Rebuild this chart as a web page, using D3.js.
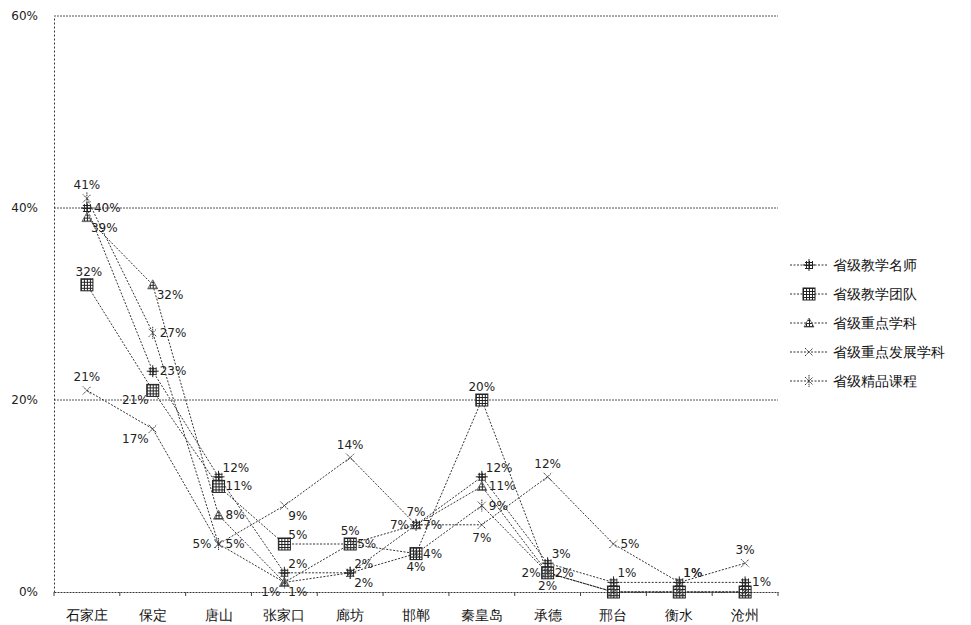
<!DOCTYPE html>
<html>
<head>
<meta charset="utf-8">
<script src="https://cdn.jsdelivr.net/npm/d3@7"></script>
<style>
    body { margin: 0; background: #fff; }
    #chart { width: 971px; height: 625px; }
    text { font-family: "DejaVu Sans", sans-serif; }
</style>
</head>
<body>
<div id="chart"></div>
<script>
// categories and values (percent)
const categories = ["石家庄", "保定", "唐山", "张家口", "廊坊", "邯郸", "秦皇岛", "承德", "邢台", "衡水", "沧州"];
const teacherVals = [40, 23, 12, 2, 2, 7, 12, 3, 1, 1, 1];
const teamVals = [32, 21, 11, 5, 5, 4, 20, 2, 0, 0, 0];
const keySubjectVals = [39, 32, 8, 1, 5, 7, 11, 2, 0, 0, 0];
const devSubjectVals = [21, 17, 5, 9, 14, 7, 7, 12, 5, 1, 3];
const courseVals = [41, 27, 5, 1, 2, 4, 9, 2, 0, 0, 0];
const seriesNames = ["省级教学名师", "省级教学团队", "省级重点学科", "省级重点发展学科", "省级精品课程"];
const yTicks = [0, 20, 40, 60];

// where each data label sits relative to its point
const labelPlace = [
    ["r", "r", "ar", "ar", "ar", "a", "ar", "ar", "ar", "ar", "r"],
    ["al", "bl", "r", "ar", "a", "b", "a", "l", "r", "r", "r"],
    ["br", "br", "r", "bl", "r", "l", "r", "r", "r", "r", "r"],
    ["a", "bl", "l", "br", "a", "r", "b", "a", "r", "ar", "a"],
    ["a", "r", "r", "br", "br", "r", "r", "b", "r", "r", "r"]
];

const seriesVals = [teacherVals, teamVals, keySubjectVals, devSubjectVals, courseVals];
const markerTypes = ["hash", "square", "triangle", "cross", "star"];

const margin = {top: 16, right: 193, bottom: 33, left: 54};
const width = 971 - margin.left - margin.right;
const height = 625 - margin.top - margin.bottom;

const svg = d3.select("#chart").append("svg")
    .attr("width", 971)
    .attr("height", 625);

// hatch fill for markers
const defs = svg.append("defs");
const pat = defs.append("pattern")
    .attr("id", "hatch")
    .attr("width", 3).attr("height", 3)
    .attr("patternUnits", "userSpaceOnUse");
pat.append("rect").attr("width", 3).attr("height", 3).attr("fill", "#fff");
pat.append("path").attr("d", "M0,0.5H3M0.5,0V3").attr("stroke", "#222").attr("stroke-width", 1);

const g = svg.append("g")
    .attr("transform", `translate(${margin.left},${margin.top})`);

const x = d3.scaleBand()
    .domain(categories)
    .range([0, width]);

const y = d3.scaleLinear()
    .domain([0, 60])
    .range([height, 0]);

// gridlines
g.selectAll(".grid")
    .data(yTicks.filter(d => d > 0))
    .enter()
    .append("line")
    .attr("class", "grid")
    .attr("x1", 0).attr("x2", width)
    .attr("y1", d => y(d)).attr("y2", d => y(d))
    .attr("stroke", "#555")
    .attr("stroke-width", 1)
    .attr("stroke-dasharray", "2,1");

// y axis
const yAxis = d3.axisLeft(y)
    .tickValues(yTicks)
    .tickSize(0)
    .tickPadding(16)
    .tickFormat(d => d + "%");
const yg = g.append("g").call(yAxis);
yg.select(".domain").attr("stroke", "#333").attr("stroke-dasharray", "2,2");
yg.selectAll("text").attr("font-size", 12).attr("fill", "#222");

// x axis
const xAxis = d3.axisBottom(x).tickSize(0).tickPadding(18);
const xg = g.append("g")
    .attr("transform", `translate(0,${height})`)
    .call(xAxis);
xg.select(".domain").attr("stroke", "#333").attr("stroke-dasharray", "2,1");
xg.selectAll("text")
    .attr("font-size", 14)
    .attr("font-family", "'Noto Sans CJK SC', sans-serif")
    .attr("fill", "#111");
// boundary ticks
g.selectAll(".btick")
    .data(d3.range(categories.length + 1))
    .enter()
    .append("line")
    .attr("x1", d => d * x.step()).attr("x2", d => d * x.step())
    .attr("y1", height).attr("y2", height + 4)
    .attr("stroke", "#444");

const line = d3.line()
    .x((d, i) => x(categories[i]) + x.bandwidth() / 2)
    .y(d => y(d));

function drawMarker(sel, type) {
    if (type === "hash") {
        sel.append("rect").attr("x", -4).attr("y", -4).attr("width", 8).attr("height", 8)
            .attr("fill", "url(#hatch)");
        sel.append("path").attr("d", "M-6,0H6M0,-6V6").attr("stroke", "#222").attr("stroke-width", 1);
    } else if (type === "square") {
        sel.append("rect").attr("x", -6).attr("y", -6).attr("width", 12).attr("height", 12)
            .attr("fill", "url(#hatch)").attr("stroke", "#222").attr("stroke-width", 1);
    } else if (type === "triangle") {
        sel.append("path").attr("d", "M0,-5L5,4L-5,4Z")
            .attr("fill", "url(#hatch)").attr("stroke", "#555").attr("stroke-width", 0.8);
    } else if (type === "cross") {
        sel.append("path").attr("d", "M-4,-4L4,4M-4,4L4,-4")
            .attr("stroke", "#333").attr("stroke-width", 1).attr("stroke-dasharray", "1.5,0.7");
    } else if (type === "star") {
        sel.append("path").attr("d", "M-4,-4L4,4M-4,4L4,-4M0,-6V6")
            .attr("stroke", "#333").attr("stroke-width", 1).attr("stroke-dasharray", "1.5,0.7");
    }
}

function labelOffset(code) {
    switch (code) {
        case "a": return {dx: 0, dy: -9, anchor: "middle"};
        case "al": return {dx: 2, dy: -9, anchor: "middle"};
        case "ar": return {dx: 4, dy: -5, anchor: "start"};
        case "b": return {dx: 0, dy: 17, anchor: "middle"};
        case "br": return {dx: 4, dy: 14, anchor: "start"};
        case "bl": return {dx: -4, dy: 14, anchor: "end"};
        case "l": return {dx: -7, dy: 4, anchor: "end"};
        default: return {dx: 7, dy: 4, anchor: "start"};
    }
}

seriesVals.forEach((vals, s) => {
    g.append("path")
        .datum(vals)
        .attr("fill", "none")
        .attr("stroke", "#333")
        .attr("stroke-width", 1)
        .attr("stroke-dasharray", "2,1.5")
        .attr("d", line);
});

seriesVals.forEach((vals, s) => {
    const pts = g.selectAll(".pt" + s)
        .data(vals)
        .enter()
        .append("g")
        .attr("class", "pt" + s)
        .attr("transform", (d, i) => `translate(${x(categories[i]) + x.bandwidth() / 2},${y(d)})`);
    drawMarker(pts, markerTypes[s]);
});

seriesVals.forEach((vals, s) => {
    vals.forEach((v, i) => {
        if (v === 0) return;
        const o = labelOffset(labelPlace[s][i]);
        g.append("text")
            .attr("x", x(categories[i]) + x.bandwidth() / 2 + o.dx)
            .attr("y", y(v) + o.dy)
            .attr("text-anchor", o.anchor)
            .attr("font-size", 12)
            .attr("fill", "#222")
            .text(v + "%");
    });
});

// legend
const legend = svg.append("g")
    .attr("transform", "translate(790,265)");
seriesNames.forEach((name, s) => {
    const row = legend.append("g").attr("transform", `translate(0,${s * 29})`);
    row.append("line")
        .attr("x1", 0).attr("x2", 38)
        .attr("stroke", "#333")
        .attr("stroke-dasharray", "2,1.5");
    drawMarker(row.append("g").attr("transform", "translate(19,0)"), markerTypes[s]);
    row.append("text")
        .attr("x", 43).attr("y", 5)
        .attr("font-size", 14)
        .attr("font-family", "'Noto Sans CJK SC', sans-serif")
        .attr("fill", "#111")
        .text(name);
});
</script>
</body>
</html>
